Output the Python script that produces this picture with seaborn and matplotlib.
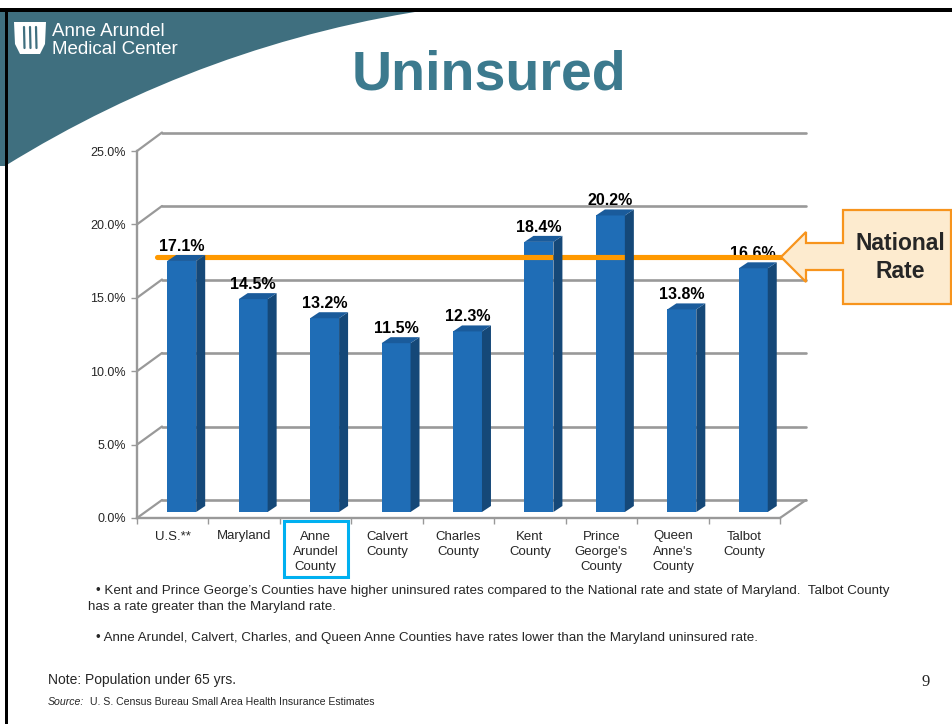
import matplotlib
matplotlib.use("Agg")
import matplotlib.pyplot as plt
import seaborn as sns
import pandas as pd
from matplotlib.patches import Polygon, Rectangle, PathPatch
from matplotlib.path import Path
from matplotlib.lines import Line2D

# ---- data -------------------------------------------------------------
categories = ["U.S.**", "Maryland", "Anne\nArundel\nCounty", "Calvert\nCounty",
              "Charles\nCounty", "Kent\nCounty", "Prince\nGeorge's\nCounty",
              "Queen\nAnne's\nCounty", "Talbot\nCounty"]
uninsured_pct = [17.1, 14.5, 13.2, 11.5, 12.3, 18.4, 20.2, 13.8, 16.6]
y_ticks = [0, 5, 10, 15, 20, 25]
y_tick_labels = ["0.0%", "5.0%", "10.0%", "15.0%", "20.0%", "25.0%"]
national_line = 17.4
highlight_category = 2

df = pd.DataFrame({"category": categories, "pct": uninsured_pct})

# ---- styling ----------------------------------------------------------
sns.set_theme(style="white")
plt.rcParams["font.family"] = ["Liberation Sans", "DejaVu Sans"]

W, H = 953, 724
fig = plt.figure(figsize=(W / 100, H / 100), dpi=100)
fig.patch.set_facecolor("white")

TEAL = "#3F6F7F"
TITLE = "#3C7A8E"
GRID = "#999999"
FRONT = "#1F6DB6"
TOP = "#1A5B9B"
SIDE = "#154878"
ORANGE = "#FF9900"


def P(px, py):
    """slide pixel -> figure fraction"""
    return (px / W, 1 - py / H)


def px_axes(x0, ytop, x1, ybot, **kw):
    return fig.add_axes([x0 / W, 1 - ybot / H, (x1 - x0) / W, (ybot - ytop) / H], **kw)


to_fig = fig.transFigure.inverted()


def disp2fig(xy):
    return to_fig.transform(xy)


# ---- slide decoration -------------------------------------------------
sw = Path([P(0, 8), P(440, 8), P(205, 42), P(5, 166), P(0, 166), P(0, 8)],
          [Path.MOVETO, Path.LINETO, Path.CURVE3, Path.CURVE3, Path.LINETO, Path.CLOSEPOLY])
fig.add_artist(PathPatch(sw, facecolor=TEAL, edgecolor="none", transform=fig.transFigure, zorder=0))
fig.add_artist(Rectangle(P(0, 12), W / W, 4 / H, facecolor="black", edgecolor="none",
                         transform=fig.transFigure, zorder=1))
fig.add_artist(Rectangle(P(5, 724), 3.5 / W, 716 / H, facecolor="black", edgecolor="none",
                         transform=fig.transFigure, zorder=1))

# logo mark
logo = Polygon([P(14, 22), P(46, 22), P(45, 44), P(40, 54), P(20, 54), P(15, 44)],
               closed=True, facecolor="white", edgecolor="none", transform=fig.transFigure, zorder=2)
fig.add_artist(logo)
for lx in (24, 30, 36):
    fig.add_artist(Line2D([P(lx, 27)[0], P(lx + 0.5, 48)[0]], [P(lx, 27)[1], P(lx, 48)[1]],
                          color=TEAL, lw=1.6, transform=fig.transFigure, zorder=3))
fig.text(*P(52, 31), "Anne Arundel", color="white", fontsize=13.5, va="center", ha="left")
fig.text(*P(52, 50), "Medical Center", color="white", fontsize=13.5, va="center", ha="left")

fig.text(*P(489, 75), "Uninsured", color=TITLE, fontsize=40, fontweight="bold",
         ha="center", va="center")

# ---- back wall (gridlines) -------------------------------------------
ax_back = px_axes(162, 132.5, 806, 500)
ax_back.set_xlim(0, 1)
ax_back.set_ylim(0, 25)
ax_back.axis("off")
for v in y_ticks:
    ax_back.axhline(v, color=GRID, lw=1.9, clip_on=False)

# ---- front frame with labels ------------------------------------------
ax = px_axes(137, 151, 780, 518)
ax.set_facecolor("none")
ax.set_xlim(-0.5, len(categories) - 0.5)
ax.set_ylim(0, 25)
for s in ("top", "right"):
    ax.spines[s].set_visible(False)
for s in ("left", "bottom"):
    ax.spines[s].set_color(GRID)
    ax.spines[s].set_linewidth(1.7)
ax.set_yticks(y_ticks)
ax.set_yticklabels(y_tick_labels, fontsize=9)
ax.set_xticks(range(len(categories)))
ax.set_xticklabels(categories, fontsize=9.5, linespacing=1.38)
ax.set_xticks([i - 0.5 for i in range(len(categories) + 1)], minor=True)
ax.tick_params(axis="y", which="major", left=True, length=4, width=1, color=GRID, pad=4)
ax.tick_params(axis="x", which="major", bottom=False, length=0, pad=9)
ax.tick_params(axis="x", which="minor", bottom=True, length=4, width=1, color=GRID)

# depth connectors between front and back planes
fig.canvas.draw()
for v in y_ticks:
    a = disp2fig(ax.transData.transform((-0.5, v)))
    b = disp2fig(ax_back.transData.transform((0, v)))
    fig.add_artist(Line2D([a[0], b[0]], [a[1], b[1]], color=GRID, lw=1.6,
                          transform=fig.transFigure))
a = disp2fig(ax.transData.transform((len(categories) - 0.5, 0)))
b = disp2fig(ax_back.transData.transform((1, 0)))
fig.add_artist(Line2D([a[0], b[0]], [a[1], b[1]], color=GRID, lw=1.6, transform=fig.transFigure))

# ---- bars -------------------------------------------------------------
ax_bar = px_axes(146, 145, 789, 512)
ax_bar.set_facecolor("none")
sns.barplot(data=df, x="category", y="pct", ax=ax_bar, color=FRONT, width=0.405,
            saturation=1, edgecolor="none", errorbar=None)
ax_bar.set_xlim(-0.5, len(categories) - 0.5)
ax_bar.set_ylim(0, 25)
ax_bar.axis("off")

DX, DY = 9, 6  # bar depth in pixels
for patch, val in zip(ax_bar.patches, uninsured_pct):
    x0 = patch.get_x()
    x1 = x0 + patch.get_width()
    h = patch.get_height()
    A = ax_bar.transData.transform((x0, h))
    B = ax_bar.transData.transform((x1, h))
    C = ax_bar.transData.transform((x1, 0))
    side = [B, C, C + (DX, DY), B + (DX, DY)]
    top = [A, B, B + (DX, DY), A + (DX, DY)]
    fig.add_artist(Polygon([disp2fig(p) for p in side], closed=True, facecolor=SIDE,
                           edgecolor="none", transform=fig.transFigure, zorder=3))
    fig.add_artist(Polygon([disp2fig(p) for p in top], closed=True, facecolor=TOP,
                           edgecolor="none", transform=fig.transFigure, zorder=3))

for i, val in enumerate(uninsured_pct):
    ax_bar.annotate(f"{val:.1f}%", (i, val), xytext=(0, 7), textcoords="offset pixels",
                    ha="center", va="bottom", fontsize=11.5, fontweight="bold",
                    color="black", annotation_clip=False, zorder=4)

# national rate reference line
ax_bar.axhline(national_line, xmin=(157 - 146) / 643, xmax=(790 - 146) / 643,
               color=ORANGE, lw=3.7, clip_on=False, zorder=6)

# callout arrow box
callout = [(781, 257), (806, 232), (806, 243), (843, 243), (843, 210), (951, 210),
           (951, 304), (843, 304), (843, 270), (806, 270), (806, 282)]
fig.add_artist(Polygon([P(*c) for c in callout], closed=True, facecolor="#FDEBCF",
                       edgecolor="#F7941D", lw=1.6, joinstyle="miter",
                       transform=fig.transFigure, zorder=7))
fig.text(*P(900, 244), "National", fontsize=16.5, fontweight="bold", ha="center",
         va="center", zorder=8)
fig.text(*P(900, 272), "Rate", fontsize=16.5, fontweight="bold", ha="center",
         va="center", zorder=8)

# highlight box around one category label
cx = disp2fig(ax.transData.transform((highlight_category, 0)))[0] * W
fig.add_artist(Rectangle(P(cx - 32, 577), 64 / W, 56 / H, facecolor="none",
                         edgecolor="#00B0F0", lw=2.2, transform=fig.transFigure, zorder=5))

# ---- notes ------------------------------------------------------------
fig.text(*P(96, 591), "\u2022 Kent and Prince George\u2019s Counties have higher uninsured rates "
         "compared to the National rate and state of Maryland.  Talbot County",
         fontsize=9.6, va="center", ha="left")
fig.text(*P(88, 607), "has a rate greater than the Maryland rate.", fontsize=9.6,
         va="center", ha="left")
fig.text(*P(96, 638), "\u2022 Anne Arundel, Calvert, Charles, and Queen Anne Counties have "
         "rates lower than the Maryland uninsured rate.", fontsize=9.6, va="center", ha="left")
fig.text(*P(48, 680), "Note: Population under 65 yrs.", fontsize=10, va="center", ha="left")
fig.text(*P(48, 702), "Source:", fontsize=7.6, style="italic", va="center", ha="left")
fig.text(*P(90, 702), "U. S. Census Bureau Small Area Health Insurance Estimates",
         fontsize=7.6, va="center", ha="left")
fig.text(*P(926, 682), "9", fontsize=12, family=["Liberation Serif", "DejaVu Serif"],
         va="center", ha="center")

fig.savefig("out.png", dpi=100)
